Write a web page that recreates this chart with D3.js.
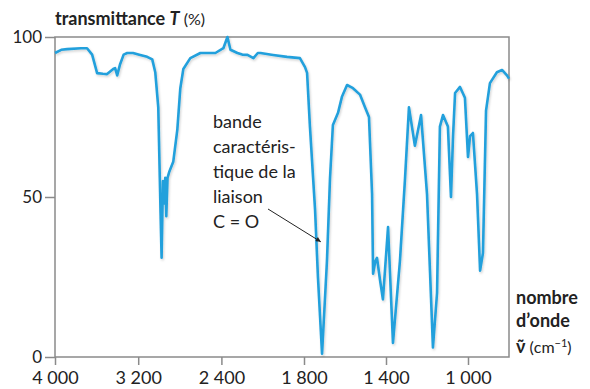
<!DOCTYPE html>
<html>
<head>
<meta charset="utf-8">
<script src="https://cdn.jsdelivr.net/npm/d3@7"></script>
<style>
  body { margin: 0; background: #fff; }
  text { font-family: Lato, "Open Sans", sans-serif; fill: #222; }
</style>
</head>
<body>
<div id="chart"></div>
<script>
// wave numbers (cm-1) and transmittance (%)
var waveNumbers = [4000, 3940, 3884, 3750, 3692, 3643, 3595, 3540, 3499, 3440, 3422, 3402, 3374, 3340, 3306, 3250,
  3181, 3114, 3065, 3036, 3007, 2995, 2985, 2975, 2962, 2950, 2940, 2930, 2918, 2900, 2863, 2824, 2795, 2766,
  2699, 2602, 2458, 2381, 2342, 2313, 2246, 2200, 2149, 2092, 2050, 2024, 1951, 1883, 1820, 1795, 1785, 1771,
  1746, 1732, 1712, 1688, 1673, 1659, 1634, 1615, 1590, 1561, 1527, 1502, 1483, 1468, 1463, 1452, 1444, 1429,
  1415, 1390, 1366, 1332, 1307, 1288, 1259, 1229, 1200, 1171, 1151, 1137, 1122, 1098, 1083, 1073, 1063, 1039,
  1015, 1000, 990, 976, 956, 941, 927, 912, 893, 859, 834, 810, 800];
var transmittance = [95, 96, 96.2, 96.5, 96.5, 94.5, 88.7, 88.5, 88.4, 90, 90.3, 88, 91.5, 94.5, 95, 95,
  94.4, 93.8, 93, 89, 78, 60, 45, 31, 55, 48, 56, 44, 56, 58, 61, 71, 84, 90,
  93.4, 95, 95, 96.5, 100, 96, 95, 94.5, 94.4, 93.4, 95, 95, 94.4, 93.8, 93.4, 90.6, 88.8, 72,
  46, 25, 1, 30, 56, 72.5, 76.3, 81.3, 85, 84, 82, 78, 75, 51, 26, 30, 31, 24,
  18, 40.6, 4.4, 30, 56, 78, 66, 75.6, 51, 3, 20, 72, 75.6, 72, 50, 69, 82.5, 84.4,
  81, 62.5, 69, 70, 51, 27, 32.5, 77, 85.6, 89, 89.7, 88, 87];

var xTicks = [4000, 3200, 2400, 1800, 1400, 1000];
var yTicks = [0, 50, 100];
var annotation = ["bande", "caractéris-", "tique de la", "liaison", "C = O"];

var W = 590, H = 389;
var pLeft = 55, pRight = 509, pTop = 37, pBottom = 357;

var svg = d3.select("#chart")
  .append("svg")
    .attr("width", W)
    .attr("height", H);

var defs = svg.append("defs");
defs.append("filter")
    .attr("id", "shadow")
    .attr("x", "-5%").attr("y", "-5%").attr("width", "110%").attr("height", "110%")
  .append("feDropShadow")
    .attr("dx", 1).attr("dy", 1.5).attr("stdDeviation", 1)
    .attr("flood-color", "#000").attr("flood-opacity", 0.18);
defs.append("marker")
    .attr("id", "arrow")
    .attr("viewBox", "0 0 10 10")
    .attr("refX", 10).attr("refY", 5)
    .attr("markerWidth", 7).attr("markerHeight", 5)
    .attr("orient", "auto")
  .append("path")
    .attr("d", "M0,0 L10,5 L0,10 z")
    .attr("fill", "#222");

// the scale doubles below 2000 cm-1, as on most IR spectra
var x = d3.scaleLinear()
  .domain([4000, 2000, 800])
  .range([pLeft, 263, pRight]);

var y = d3.scaleLinear()
  .domain([0, 100])
  .range([pBottom, pTop]);

// frame
svg.append("rect")
  .attr("x", pLeft).attr("y", pTop)
  .attr("width", pRight - pLeft).attr("height", pBottom - pTop)
  .attr("fill", "none")
  .attr("stroke", "#8a8a8a")
  .attr("stroke-width", 1.5);

var fmt = function(d) { return d >= 1000 ? Math.floor(d / 1000) + " " + d3.format("03")(d % 1000) : d; };

var xAxis = svg.append("g")
  .attr("transform", "translate(0," + pBottom + ")")
  .call(d3.axisBottom(x).tickValues(xTicks).tickSize(8).tickPadding(6).tickFormat(fmt));
xAxis.select(".domain").remove();
xAxis.selectAll("line").attr("stroke", "#8a8a8a").attr("stroke-width", 1.5);
xAxis.selectAll("text").attr("font-size", 18).attr("fill", "#222");

var yAxis = svg.append("g")
  .attr("transform", "translate(" + pLeft + ",0)")
  .call(d3.axisLeft(y).tickValues(yTicks).tickSize(10).tickPadding(3));
yAxis.select(".domain").remove();
yAxis.selectAll("line").attr("stroke", "#8a8a8a").attr("stroke-width", 1.5);
yAxis.selectAll("text").attr("font-size", 17).attr("dy", "0.3em").attr("fill", "#222");

// spectrum
var data = waveNumbers.map(function(w, i) { return {w: w, t: transmittance[i]}; });
svg.append("path")
  .datum(data)
  .attr("fill", "none")
  .attr("stroke", "#22a0dc")
  .attr("stroke-width", 2.6)
  .attr("stroke-linejoin", "round")
  .attr("filter", "url(#shadow)")
  .attr("d", d3.line()
    .x(function(d) { return x(d.w) })
    .y(function(d) { return y(d.t) })
  );

// y title
var yt = svg.append("text")
  .attr("x", pLeft).attr("y", 25)
  .attr("font-size", 18);
yt.append("tspan").attr("font-weight", "bold").text("transmittance ");
yt.append("tspan").attr("font-weight", "bold").attr("font-style", "italic").text("T");
yt.append("tspan").attr("font-size", 16).text(" (%)");

// x title
svg.append("text").attr("x", 516).attr("y", 304)
  .attr("font-size", 18).attr("font-weight", "bold").text("nombre");
svg.append("text").attr("x", 516).attr("y", 327)
  .attr("font-size", 18).attr("font-weight", "bold").text("d’onde");
var xt = svg.append("text").attr("x", 516).attr("y", 353).attr("font-size", 18);
xt.append("tspan").attr("font-weight", "bold").text("ν̃");
xt.append("tspan").attr("font-size", 16).text(" (cm");
xt.append("tspan").attr("font-size", 11).attr("dy", -6).text("−1");
xt.append("tspan").attr("font-size", 16).attr("dy", 6).text(")");

// annotation
svg.append("g").selectAll("text")
  .data(annotation)
  .join("text")
    .attr("x", 213)
    .attr("y", function(d, i) { return 128 + i * 25; })
    .attr("font-size", 18)
    .text(function(d) { return d; });

svg.append("line")
  .attr("x1", 268).attr("y1", 209)
  .attr("x2", x(1718)).attr("y2", y(36))
  .attr("stroke", "#222")
  .attr("stroke-width", 1)
  .attr("marker-end", "url(#arrow)");
</script>
</body>
</html>
